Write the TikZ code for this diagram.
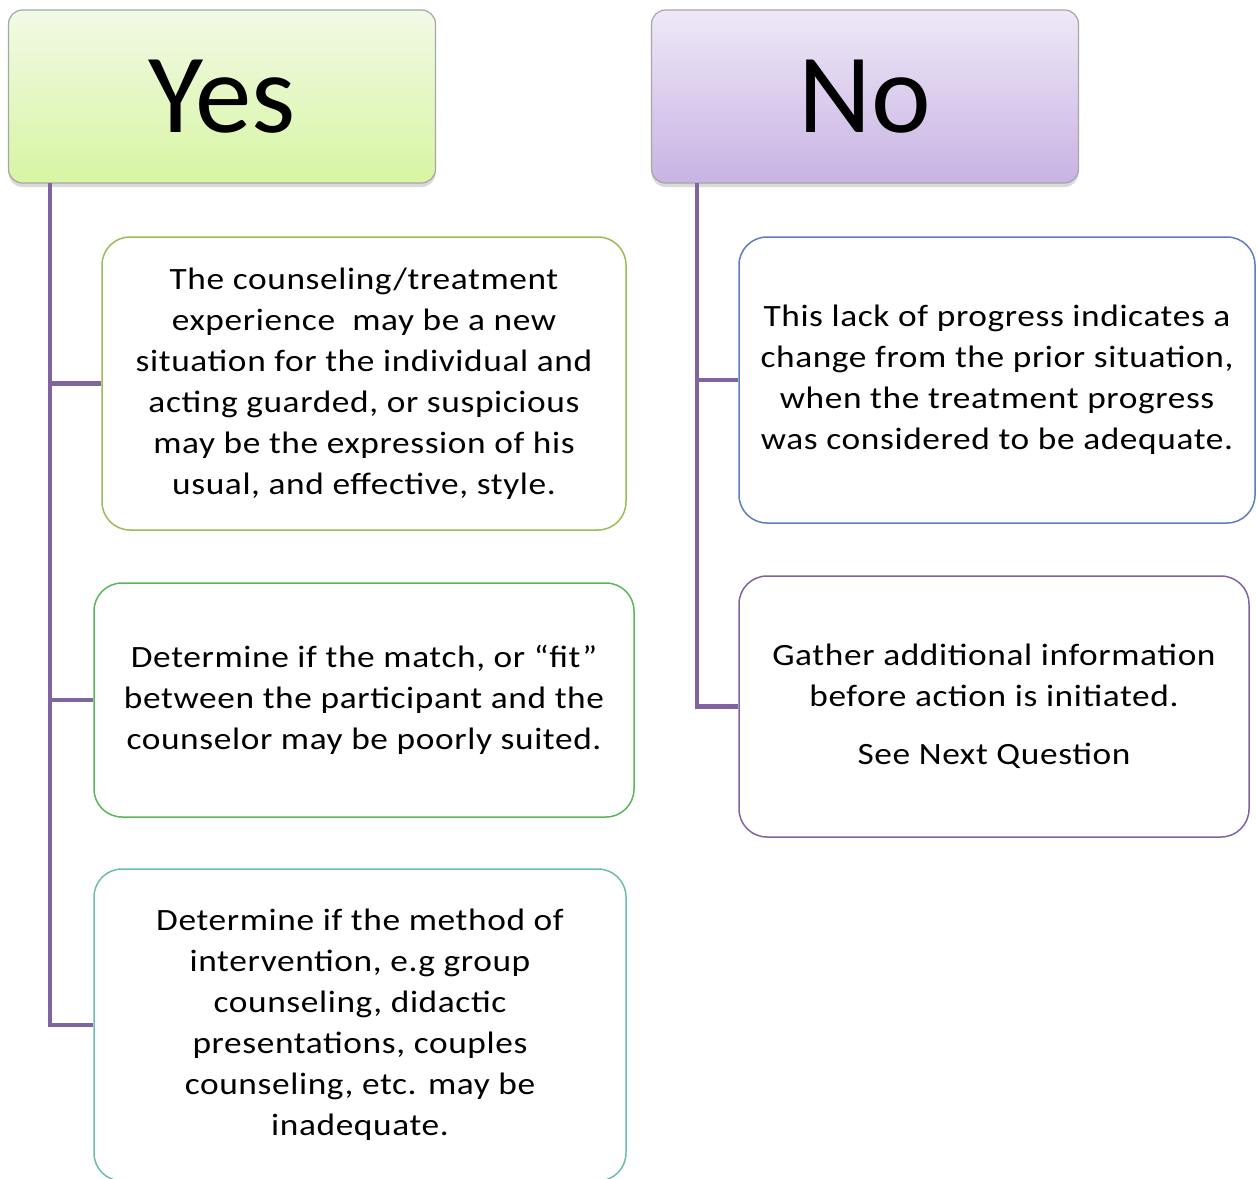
\documentclass[tikz,border=0pt]{standalone}
\usepackage{fontspec}
\setmainfont{Carlito}
\newfontfamily\cardfont{Carlito}[FakeStretch=1.14, LetterSpace=2]
\usetikzlibrary{shadows}
\definecolor{spine}{HTML}{8064A2}
\definecolor{yestop}{HTML}{F2F9E6}
\definecolor{yesbot}{HTML}{D7F5A2}
\definecolor{notop}{HTML}{EEE8F7}
\definecolor{nobot}{HTML}{C8B3E3}
\definecolor{olive}{HTML}{9BBB59}
\definecolor{leaf}{HTML}{5BB65B}
\definecolor{teal}{HTML}{6CBDAE}
\definecolor{steel}{HTML}{5A7EBE}

\begin{document}
\begin{tikzpicture}[x=1pt,y=-1pt,
    head/.style={draw=gray!70, line width=1.2pt, rounded corners=14pt,
        minimum width=427pt, minimum height=173pt, inner sep=0pt,
        font=\fontsize{113}{120}\selectfont,
        drop shadow={shadow xshift=0pt, shadow yshift=-4pt, opacity=0.3}},
    card/.style={draw=#1, line width=1.5pt, rounded corners=28pt, fill=white,
        align=center, inner sep=0pt, font=\cardfont\fontsize{31}{41}\selectfont},
    link/.style={draw=spine, line width=4.5pt}]

    \useasboundingbox (0,0) rectangle (1257,1178);

    % headers
    \node[head, top color=yestop, bottom color=yesbot] (yes) at (222,96.5) {Yes};
    \node[head, top color=notop, bottom color=nobot] (no) at (865,96.5) {No};

    % yes side
    \node[card=olive, minimum width=524pt, minimum height=293pt] (b1) at (364,383.5)
        {The counseling/treatment\\ experience\ \ may be a new\\ situation for the individual and\\
         acting guarded, or suspicious\\ may be the expression of his\\ usual, and effective, style.};
    \node[card=leaf, minimum width=540pt, minimum height=234pt] (b2) at (364,700)
        {Determine if the match, or “fit”\\ between the participant and the\\ counselor may be poorly suited.};
    \node[card=teal, minimum width=532pt, minimum height=312pt] (b3) at (360,1025)
        {Determine if the method of\\ intervention, e.g group\\ counseling, didactic\\
         presentations, couples\\ counseling, etc. may be\\ inadequate.};

    % no side
    \node[card=steel, minimum width=516pt, minimum height=286pt] (b4) at (997,380)
        {This lack of progress indicates a\\ change from the prior situation,\\
         when the treatment progress\\ was considered to be adequate.};
    \node[card=spine, minimum width=510pt, minimum height=261pt] (b5) at (994,706.5)
        {Gather additional information\\ before action is initiated.\\[17pt] See Next Question};

    \coordinate (ytop) at (50,183);
    \coordinate (ntop) at (697,183);

    \draw[link] (ytop) |- (b3.west);
    \foreach \b in {b1,b2}
        \draw[link] (ytop |- \b.west) -- (\b.west);
    \draw[link] (ntop) |- (b5.west);
    \draw[link] (ntop |- b4.west) -- (b4.west);

\end{tikzpicture}
\end{document}
